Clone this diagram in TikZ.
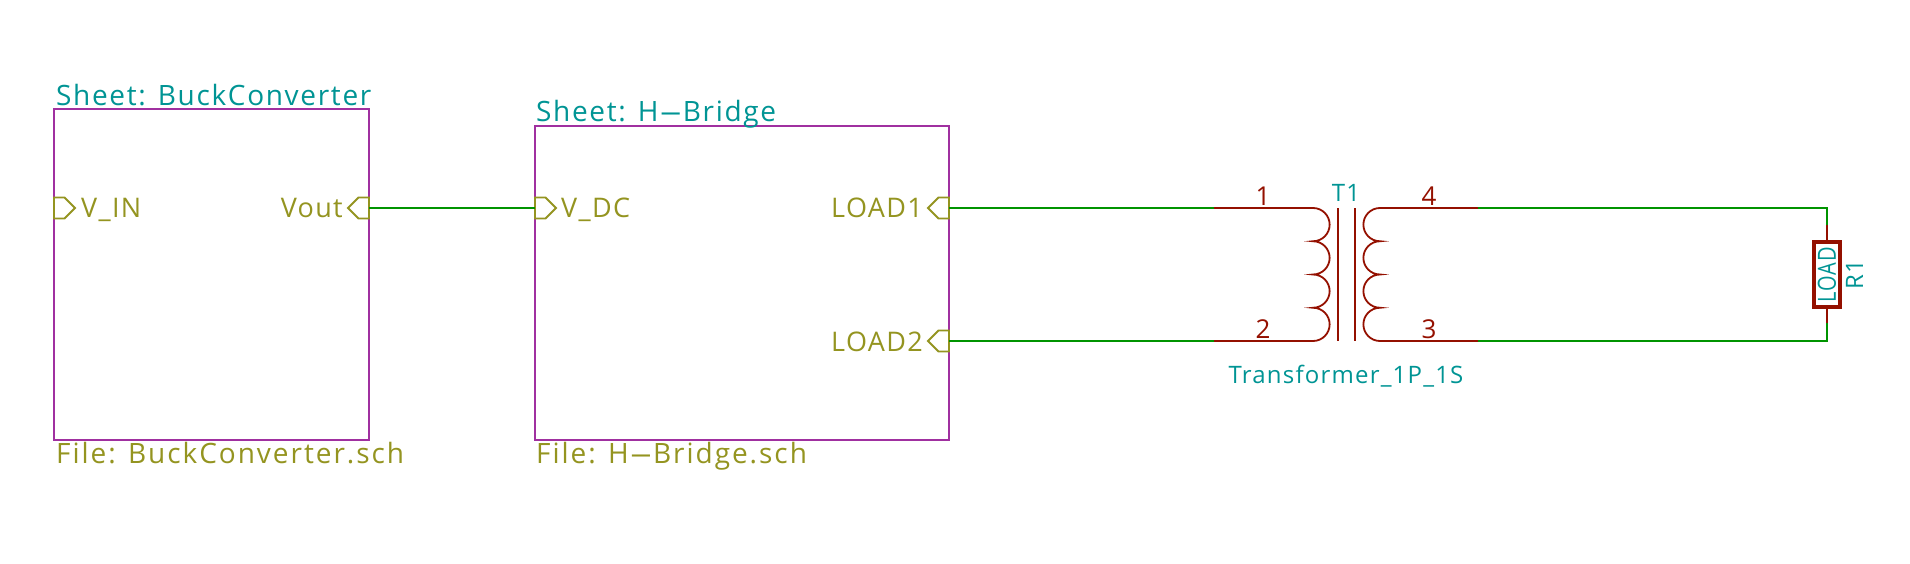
\documentclass[tikz,border=0pt]{standalone}
\usepackage{fontspec}
\usepackage{tikz}
\usetikzlibrary{shapes.symbols, positioning}
\newfontfamily\kifont[LetterSpace=5]{Open Sans}
\newfontfamily\kiname[LetterSpace=6]{Open Sans}
\newfontfamily\kiwide[LetterSpace=7]{Open Sans}
\newcommand{\longdash}{\scalebox{2.7}[1]{-}}
\definecolor{kiteal}{RGB}{0,148,148}
\definecolor{kiolive}{RGB}{148,148,32}
\definecolor{kipurple}{RGB}{160,48,160}
\definecolor{kigreen}{RGB}{0,148,0}
\definecolor{kired}{RGB}{148,16,0}
\tikzset{
    sheetbox/.style={draw=kipurple, line width=2.3pt, anchor=north west, inner sep=0pt, outer sep=0pt},
    portin/.style={draw=kiolive, line width=1.9pt, signal, signal to=east, signal pointer angle=90, minimum width=21pt, minimum height=21pt, inner sep=0pt, outer sep=0pt},
    portout/.style={portin, signal to=west},
    wire/.style={draw=kigreen, line width=1.9pt},
    part/.style={draw=kired, line width=1.8pt},
    sheetname/.style={text=kiteal, font=\kiname\fontsize{28}{28}\selectfont, inner sep=0pt, anchor=base west},
    sheetfile/.style={text=kiolive, font=\kiwide\fontsize{28}{28}\selectfont, inner sep=0pt, anchor=base west},
    portname/.style={text=kiolive, font=\kifont\fontsize{27}{27}\selectfont, inner sep=0pt},
    pinnum/.style={text=kired, font=\kifont\fontsize{26}{26}\selectfont, inner sep=0pt, anchor=base},
    partname/.style={text=kiteal, font=\kifont\fontsize{24}{24}\selectfont, inner sep=0pt, anchor=base},
}
\begin{document}
\begin{tikzpicture}[x=1pt, y=1pt]
    \useasboundingbox (0,0) rectangle (1910,-564);

    \node[sheetbox, minimum width=315pt, minimum height=331pt] (buck) at (54,-109) {};
    \node[sheetname] (buckname) at (56,-106) {Sheet: BuckConverter};
    \node[sheetfile] (buckfile) at (56,-463) {File: BuckConverter.sch};
    \node[portin, anchor=west] (vin) at (54,-208) {};
    \node[portname, anchor=base west] (vinname) at (81,-218) {V\_IN};
    \node[portout, anchor=east] (vout) at (369,-208) {};
    \node[portname, anchor=base east] (voutname) at (343,-218) {Vout};

    \node[sheetbox, minimum width=414pt, minimum height=314pt] (bridge) at (535,-126) {};
    \node[sheetname] (bridgename) at (536,-122) {Sheet: H\longdash Bridge};
    \node[sheetfile] (bridgefile) at (536,-463) {File: H\longdash Bridge.sch};
    \node[portin, anchor=west] (vdc) at (535,-208) {};
    \node[portname, anchor=base west] (vdcname) at (561,-218) {V\_DC};
    \node[portout, anchor=east] (loada) at (949,-208) {};
    \node[portname, anchor=base east] (loadaname) at (923,-218) {LOAD1};
    \node[portout, anchor=east] (loadb) at (949,-341) {};
    \node[portname, anchor=base east] (loadbname) at (923,-351) {LOAD2};

    \coordinate (pina) at (1214,-208);
    \coordinate (pinb) at (1214,-341);
    \coordinate (pinc) at (1478,-341);
    \coordinate (pind) at (1478,-208);
    \coordinate (coila) at (1313,-208);
    \coordinate (coilb) at (1313,-341);
    \coordinate (coilc) at (1380,-341);
    \coordinate (coild) at (1380,-208);
    \coordinate (corea) at (1338,-208);
    \coordinate (coreb) at (1338,-341);
    \coordinate (corec) at (1355,-208);
    \coordinate (cored) at (1355,-341);

    \node[partname] (tname) at (1346,-201) {T1};
    \node[partname] (tvalue) at (1346,-383) {Transformer\_1P\_1S};
    \node[pinnum] (numa) at (1263,-205) {1};
    \node[pinnum] (numb) at (1263,-338) {2};
    \node[pinnum] (numc) at (1429,-338) {3};
    \node[pinnum] (numd) at (1429,-205) {4};

    \draw[part] (pina) -- (coila);
    \draw[part] (pinb) -- (coilb);
    \draw[part] (pinc) -- (coilc);
    \draw[part] (pind) -- (coild);
    \draw[part] (corea) -- (coreb);
    \draw[part] (corec) -- (cored);
    \draw[part] (coila) \foreach \i in {1,...,4} {arc[start angle=90, end angle=-90, radius=16.625pt]};
    \draw[part] (coild) \foreach \i in {1,...,4} {arc[start angle=90, end angle=270, radius=16.625pt]};

    \node[part, line width=3.4pt, rotate=90, minimum width=65pt, minimum height=26pt, inner sep=0pt, text=kiteal, font=\kifont\fontsize{25}{25}\selectfont] (rload) at (1827,-274.5) {\scalebox{.8}[1]{LOAD}};
    \node[partname, rotate=90] (rname) at (1863,-275) {R1};
    \coordinate (rtop) at (1827,-225);
    \coordinate (rbot) at (1827,-323);
    \coordinate (rcorna) at (1827,-208);
    \coordinate (rcornb) at (1827,-341);
    \draw[part] (rload.east) -- (rtop);
    \draw[part] (rload.west) -- (rbot);

    \draw[wire] (vout.east) -- (vdc.west);
    \draw[wire] (loada.east) -- (pina);
    \draw[wire] (loadb.east) -- (pinb);
    \draw[wire] (pind) -- (rcorna) -- (rtop);
    \draw[wire] (pinc) -- (rcornb) -- (rbot);
\end{tikzpicture}
\end{document}
